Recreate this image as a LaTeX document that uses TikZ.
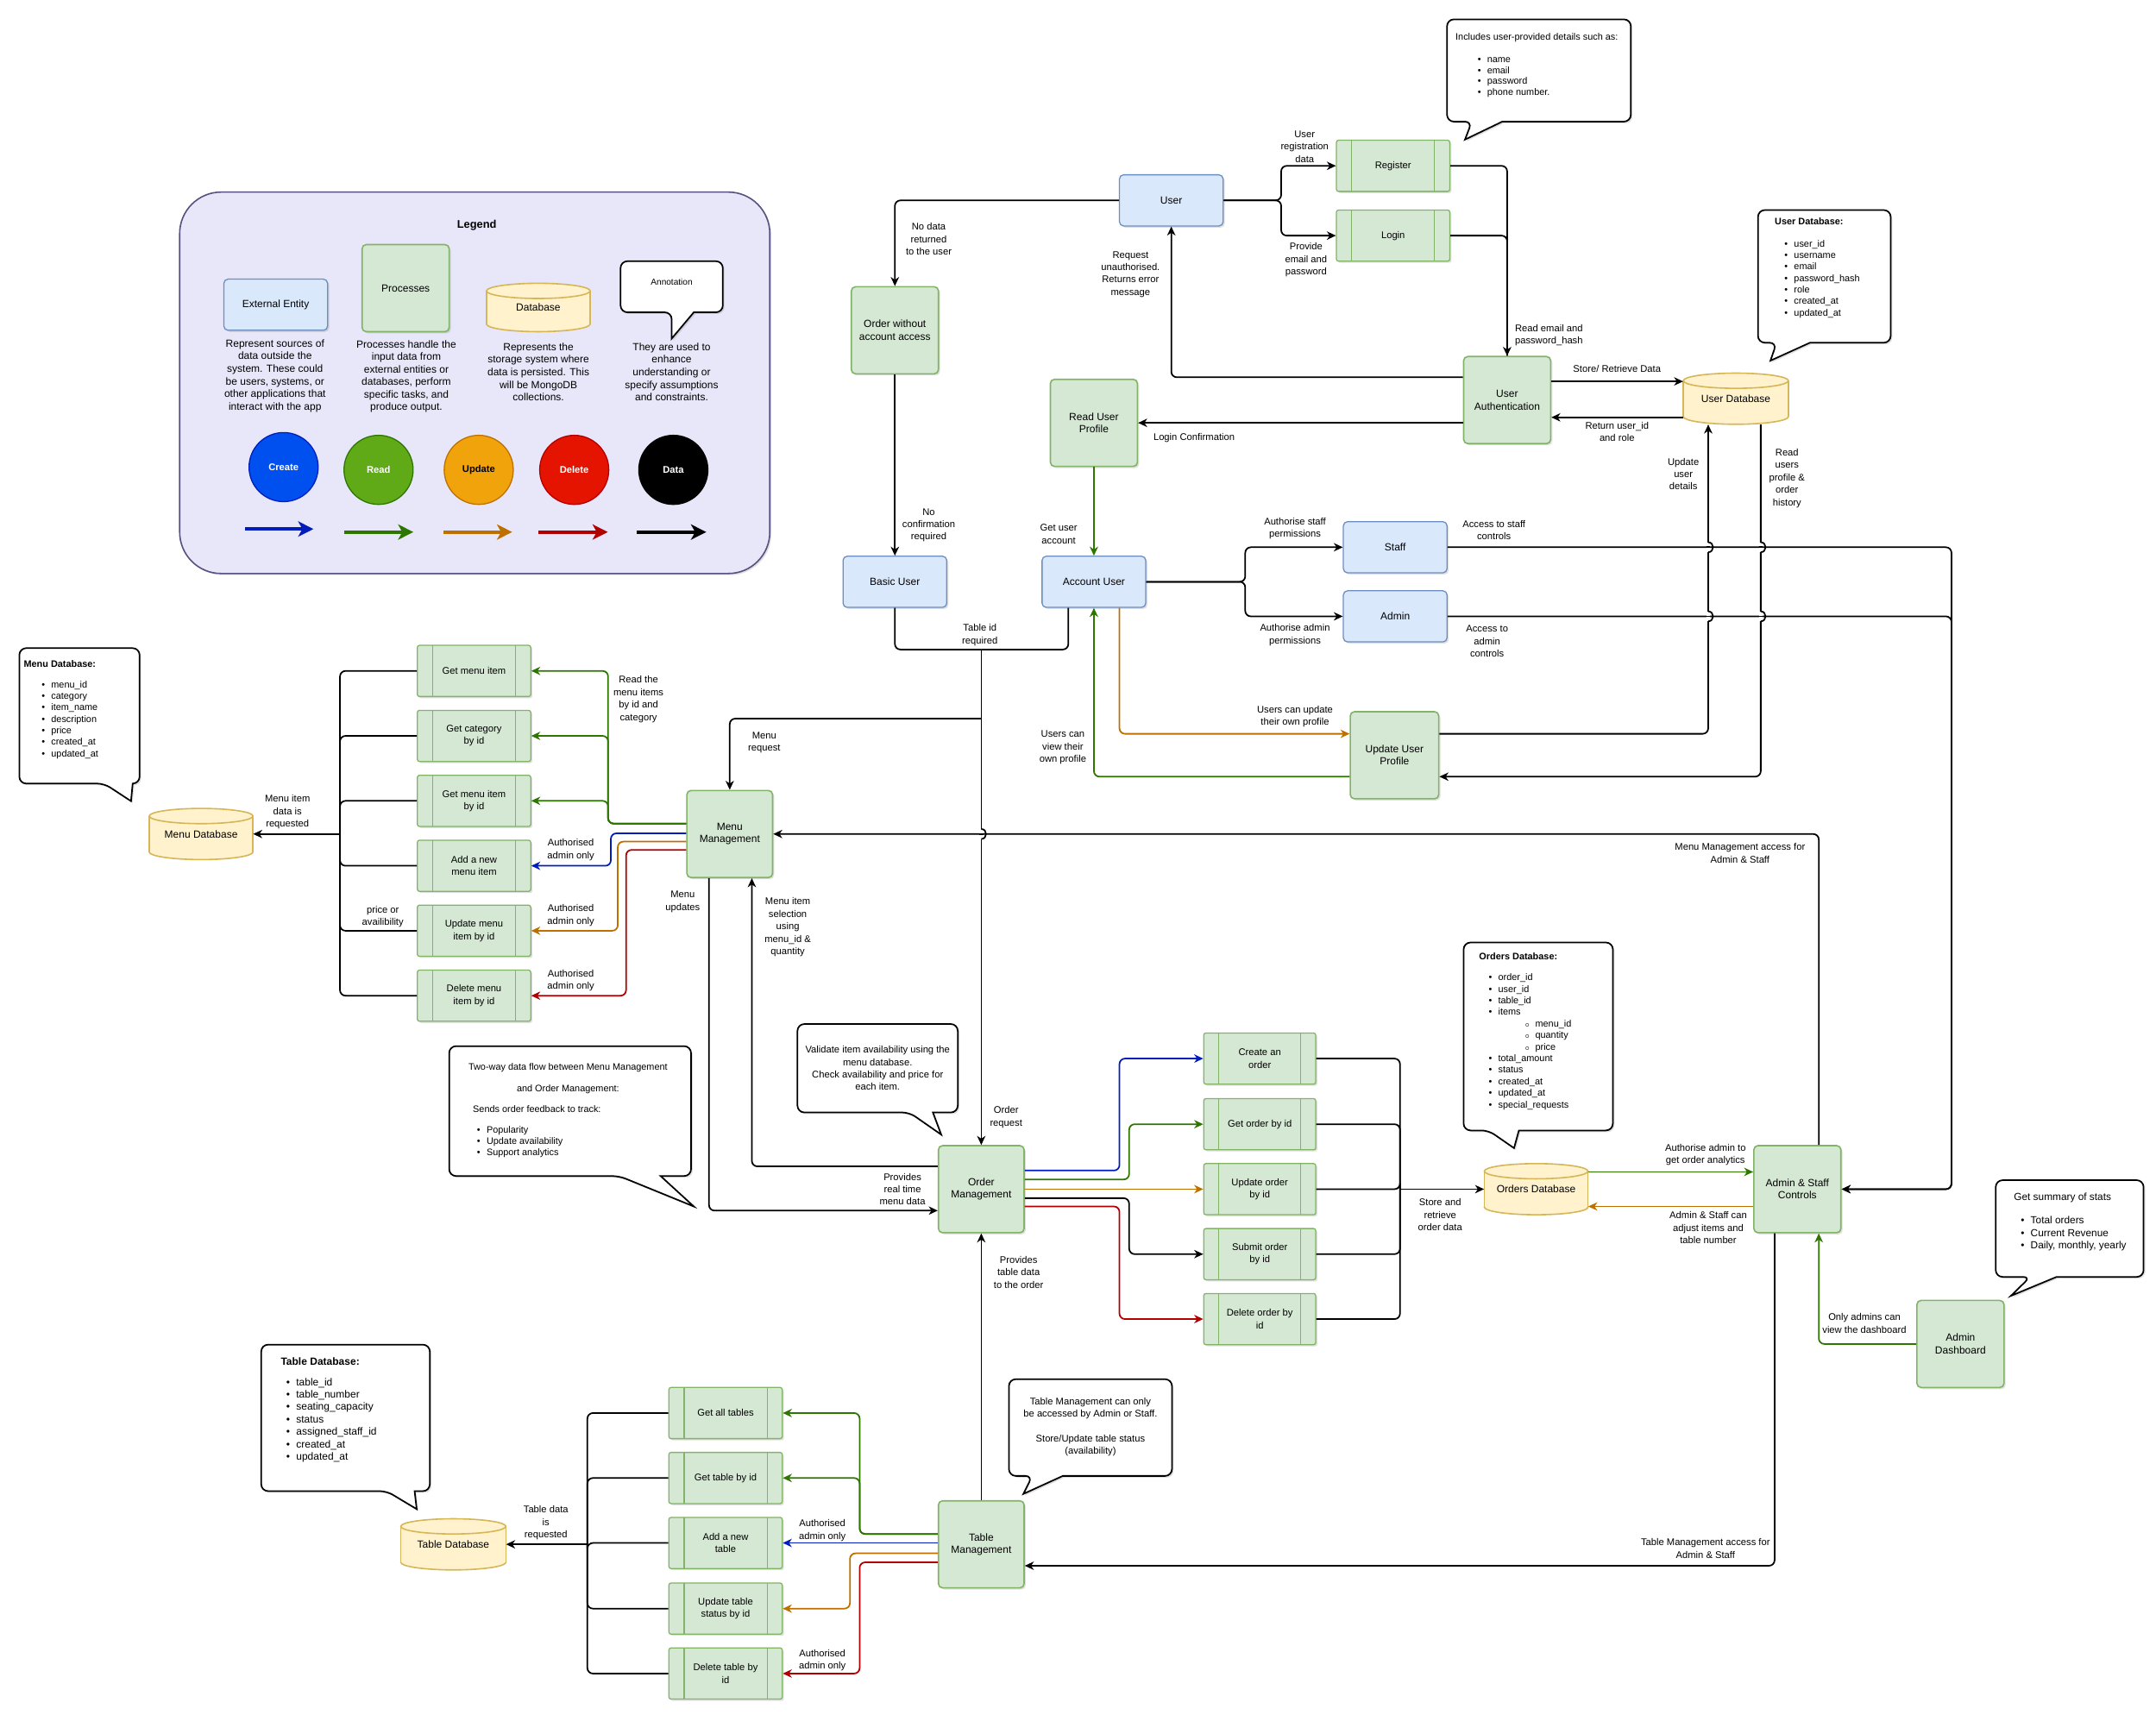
\documentclass[tikz,border=0pt]{standalone}
\usepackage{fontspec}
\setmainfont{Liberation Sans}
\usetikzlibrary{arrows.meta,shadows}
\definecolor{entfill}{HTML}{DAE8FC}
\definecolor{entline}{HTML}{6C8EBF}
\definecolor{procfill}{HTML}{D5E8D4}
\definecolor{procline}{HTML}{82B366}
\definecolor{dbfill}{HTML}{FFF2CC}
\definecolor{dbline}{HTML}{D6B656}
\definecolor{cBlue}{HTML}{001DBC}
\definecolor{cGreen}{HTML}{2D7600}
\definecolor{cOrange}{HTML}{BD7000}
\definecolor{cRed}{HTML}{B20000}
\definecolor{fBlue}{HTML}{0050EF}
\definecolor{fGreen}{HTML}{60A917}
\definecolor{fOrange}{HTML}{F0A30A}
\definecolor{fRed}{HTML}{E51400}
\definecolor{legfill}{HTML}{E8E6F9}
\definecolor{legline}{HTML}{56517E}
\newcommand\myfs[2]{\fontsize{#1}{#2}\selectfont}
\newcommand\blt[1]{\hspace*{#1}\textbullet\hspace{4.5pt}}
\newcommand\sblt[1]{\hspace*{#1}$\scriptscriptstyle\circ$\hspace{4pt}}
\tikzset{
  shd/.style={drop shadow={shadow xshift=1.2pt,shadow yshift=-1.2pt,opacity=0.25}},
  ent/.style={shd,rounded corners=3pt,fill=entfill,draw=entline,line width=0.8pt,minimum width=75pt,minimum height=37pt,align=center,font=\myfs{7.5}{9}},
  proc/.style={shd,rounded corners=3pt,fill=procfill,draw=procline,line width=1pt,minimum width=63pt,minimum height=63pt,align=center,font=\myfs{7.5}{9}},
  subp/.style={shd,rounded corners=1.5pt,fill=procfill,draw=procline,line width=0.8pt,minimum width=82pt,minimum height=37pt,align=center,font=\myfs{7}{9},
    path picture={\draw[procline,line width=0.7pt]
      ([xshift=11pt]path picture bounding box.north west) -- ([xshift=11pt]path picture bounding box.south west)
      ([xshift=-11pt]path picture bounding box.north east) -- ([xshift=-11pt]path picture bounding box.south east);}},
  lbl/.style={font=\myfs{7}{9},align=center,inner sep=0pt},
  ann/.style={font=\myfs{6.8}{8.33},align=left,inner sep=0pt,anchor=north west},
  arr/.style={line width=1.1pt,rounded corners=4pt,-{Stealth[length=6.5pt,width=6pt,inset=2pt]}},
  ln/.style={line width=1.1pt,rounded corners=4pt},
  legarr/.style={line width=2.3pt,-{Stealth[length=11pt,width=11pt,inset=3pt]}},
  circ/.style={circle,minimum size=50pt,line width=0.8pt,font=\bfseries\myfs{7}{9},text=white},
}
\newcommand\callout[8]{%
  \draw[shd,line width=1.1pt,fill=white] (#6,#4) [rounded corners=5pt] -- (#3,#4) -- (#3,#2) -- (#1,#2) -- (#1,#4) -- (#5,#4) [sharp corners] -- (#7,#8) -- cycle;}
\newcommand\dbcyl[6]{%
  \pgfmathsetmacro\cxa{#2-#4/2}\pgfmathsetmacro\cxb{#2+#4/2}%
  \pgfmathsetmacro\cya{#3-#5/2+5.5}\pgfmathsetmacro\cyb{#3+#5/2-5.5}%
  \pgfmathsetmacro\crx{#4/2}%
  \filldraw[fill=dbfill,draw=dbline,line width=1pt] (#2,\cyb) ellipse [x radius=\crx pt,y radius=5.5pt];
  \fill[dbfill] (\cxa,\cya) rectangle (\cxb,\cyb);
  \draw[dbline,line width=1pt] (\cxa,\cya) -- (\cxa,\cyb) (\cxb,\cya) -- (\cxb,\cyb);
  \filldraw[fill=dbfill,draw=dbline,line width=1pt] (#2,\cya) ellipse [x radius=\crx pt,y radius=5.5pt];
  \node[font=\myfs{7.5}{9},minimum width=#4pt,minimum height=#5pt,inner sep=0pt] (#1) at (#2,#3) {#6};}
% jump of a vertical line over a horizontal one at (#1,#2)
\newcommand\vjump[2]{%
  \fill[white] (#1-1.2,#2-3.6) rectangle (#1+1.2,#2+3.6);
  \draw[line width=1.1pt] (#1-1.4,#2) -- (#1+1.4,#2);
  \draw[line width=1.1pt] (#1,#2-3.6) .. controls (#1+4.6,#2-3.6) and (#1+4.6,#2+3.6) .. (#1,#2+3.6);}
\begin{document}
\begin{tikzpicture}[x=1pt,y=-1pt]
\useasboundingbox (0,0) rectangle (1560,1241);
\fill[white] (0,0) rectangle (1560,1241);

% ================= LEGEND =================
\node[shd,draw=legline,fill=legfill,line width=1pt,rounded corners=30pt,minimum width=427pt,minimum height=276pt] (legend) at (343.5,277) {};
\node[font=\bfseries\myfs{8}{10}] (legT) at (345,163) {Legend};
\node[ent] (lgEnt) at (199.5,220.5) {External Entity};
\node[proc] (lgProc) at (293.5,208.5) {Processes};
\dbcyl{lgDb}{389.5}{222.5}{75}{35}{Database}
\callout{449}{189}{523}{226}{486}{502}{486}{245}
\node[font=\myfs{6.3}{8}] (lgAnn) at (486,204) {Annotation};
\node[lbl,font=\myfs{7.5}{9.1},anchor=north] (lgD1) at (199,245.5) {Represent sources of\\data outside the\\system. These could\\be users, systems, or\\other applications that\\interact with the app};
\node[lbl,font=\myfs{7.5}{9.1},anchor=north] (lgD2) at (294,246) {Processes handle the\\input data from\\external entities or\\databases, perform\\specific tasks, and\\produce output.};
\node[lbl,font=\myfs{7.5}{9.1},anchor=north] (lgD3) at (389.6,248) {Represents the\\storage system where\\data is persisted. This\\will be MongoDB\\collections.};
\node[lbl,font=\myfs{7.5}{9.1},anchor=north] (lgD4) at (486,248) {They are used to\\enhance\\understanding or\\specify assumptions\\and constraints.};
\node[circ,fill=fBlue,draw=cBlue] (cCreate) at (205.2,338) {Create};
\node[circ,fill=fGreen,draw=cGreen] (cRead) at (273.9,340) {Read};
\node[circ,fill=fOrange,draw=cOrange,text=black] (cUpdate) at (346.4,340) {Update};
\node[circ,fill=fRed,draw=cRed] (cDelete) at (415.5,340) {Delete};
\node[circ,fill=black,draw=black] (cData) at (487.2,340) {Data};
\draw[legarr,cBlue] (177.5,382.8) -- (226.8,382.8);
\draw[legarr,cGreen] (249.3,385) -- (299.1,385);
\draw[legarr,cOrange] (321,385) -- (370.6,385);
\draw[legarr,cRed] (389.7,385) -- (439.8,385);
\draw[legarr,black] (461,385) -- (511,385);

% ================= CALLOUTS =================
\callout{1047}{14}{1180}{88}{1065}{1087}{1060}{101}
\node[ann,font=\myfs{6.8}{8}] (aTop) at (1053,24) {Includes user-provided details such as:\\[8pt]\blt{16pt}name\\\blt{16pt}email\\\blt{16pt}password\\\blt{16pt}phone number.};
\callout{1272}{152}{1368}{248}{1285.5}{1309.6}{1281}{261}
\node[ann] (aUdb) at (1284,157.5) {\textbf{User Database:}\\[7.7pt]\blt{7pt}user\_id\\\blt{7pt}username\\\blt{7pt}email\\\blt{7pt}password\_hash\\\blt{7pt}role\\\blt{7pt}created\_at\\\blt{7pt}updated\_at};
\callout{14}{469}{101}{567}{75.4}{96}{94.8}{579.7}
\node[ann] (aMdb) at (17,477.5) {\textbf{Menu Database:}\\[6.7pt]\blt{13pt}menu\_id\\\blt{13pt}category\\\blt{13pt}item\_name\\\blt{13pt}description\\\blt{13pt}price\\\blt{13pt}created\_at\\\blt{13pt}updated\_at};
\callout{1059}{682}{1167}{818}{1077}{1099}{1095.5}{830.8}
\node[ann,font=\myfs{6.8}{8.36}] (aOdb) at (1070,689.5) {\textbf{Orders Database:}\\[6.6pt]\blt{7pt}order\_id\\\blt{7pt}user\_id\\\blt{7pt}table\_id\\\blt{7pt}items\\\sblt{33pt}menu\_id\\\sblt{33pt}quantity\\\sblt{33pt}price\\\blt{7pt}total\_amount\\\blt{7pt}status\\\blt{7pt}created\_at\\\blt{7pt}updated\_at\\\blt{7pt}special\_requests};
\callout{189}{973}{311}{1079}{279.8}{300}{301.5}{1092}
\node[ann,font=\myfs{7.5}{9}] (aTdb) at (203,982) {\textbf{Table Database:}\\[6pt]\blt{4pt}table\_id\\\blt{4pt}table\_number\\\blt{4pt}seating\_capacity\\\blt{4pt}status\\\blt{4pt}assigned\_staff\_id\\\blt{4pt}created\_at\\\blt{4pt}updated\_at};
\callout{1444}{854}{1551}{924}{1469}{1488}{1455}{937.7}
\node[ann,font=\myfs{7.4}{9}] (aSt) at (1457,863) {Get summary of stats\\[8pt]\blt{5pt}Total orders\\\blt{5pt}Current Revenue\\\blt{5pt}Daily, monthly, yearly};
\callout{577}{741}{693}{805}{658}{675}{681}{821}
\node[lbl] (aVal) at (635,773) {Validate item availability using the\\menu database.\\Check availability and price for\\each item.};
\callout{325}{757}{500}{851}{448}{478}{502}{873}
\node[lbl,font=\myfs{6.8}{16}] (aTw1) at (411,780.5) {Two-way data flow between Menu Management\\and Order Management:};
\node[ann,font=\myfs{6.8}{8}] (aTw2) at (342,800) {Sends order feedback to track:\\[7pt]\blt{3pt}Popularity\\\blt{3pt}Update availability\\\blt{3pt}Support analytics};
\callout{730}{998}{848}{1068}{747}{769}{740.5}{1081}
\node[lbl] (aTm) at (789,1032.5) {Table Management can only\\be accessed by Admin or Staff.\\[9pt]Store/Update table status\\(availability)};

% ================= NODES =================
\node[ent] (user) at (847.5,145) {User};
\node[subp] (reg) at (1008,120) {Register};
\node[subp] (login) at (1008,170.5) {Login};
\node[proc] (owa) at (647.5,239) {Order without\\account access};
\node[proc] (ua) at (1090.5,289.5) {User\\Authentication};
\node[proc] (rup) at (791.5,306) {Read User\\Profile};
\dbcyl{udb}{1256}{288.5}{76}{37}{User Database}
\node[ent] (basic) at (647.5,421) {Basic User};
\node[ent] (acc) at (791.5,421) {Account User};
\node[ent] (staff) at (1009.5,396) {Staff};
\node[ent] (admin) at (1009.5,446) {Admin};
\node[proc,minimum width=64pt] (uup) at (1009,546.5) {Update User\\Profile};
\node[proc,minimum width=62pt] (mm) at (528,603.5) {Menu\\Management};
\dbcyl{mdb}{145.5}{603.5}{75}{37}{Menu Database}
\node[subp] (mp1) at (343,485.5) {Get menu item};
\node[subp] (mp2) at (343,532.5) {Get category\\by id};
\node[subp] (mp3) at (343,579.5) {Get menu item\\by id};
\node[subp] (mp4) at (343,626.5) {Add a new\\menu item};
\node[subp] (mp5) at (343,673.5) {Update menu\\item by id};
\node[subp] (mp6) at (343,720.5) {Delete menu\\item by id};
\node[proc,minimum width=62pt] (om) at (710,860.5) {Order\\Management};
\node[subp,minimum width=81pt] (op1) at (911.5,766) {Create an\\order};
\node[subp,minimum width=81pt] (op2) at (911.5,813.5) {Get order by id};
\node[subp,minimum width=81pt] (op3) at (911.5,860.5) {Update order\\by id};
\node[subp,minimum width=81pt] (op4) at (911.5,907.5) {Submit order\\by id};
\node[subp,minimum width=81pt] (op5) at (911.5,954.5) {Delete order by\\id};
\dbcyl{odb}{1111.5}{860.5}{75}{37}{Orders Database}
\node[proc] (asc) at (1300.5,860.5) {Admin \& Staff\\Controls};
\node[proc] (ad) at (1418.5,972.5) {Admin\\Dashboard};
\node[proc,minimum width=62pt] (tm) at (710,1117.5) {Table\\Management};
\node[subp] (tp1) at (525,1022.5) {Get all tables};
\node[subp] (tp2) at (525,1069.5) {Get table by id};
\node[subp] (tp3) at (525,1116.5) {Add a new\\table};
\node[subp] (tp4) at (525,1164) {Update table\\status by id};
\node[subp] (tp5) at (525,1211) {Delete table by\\id};
\dbcyl{tdb}{328}{1117.5}{76}{37}{Table Database}

\coordinate (jUser) at (927,145);
\coordinate (jAcc) at (901,421);
\coordinate (j1) at (710,470);
\coordinate (j2) at (710,520);

% ================= CONNECTORS =================
\draw[arr] (user.east) -- (jUser) |- (reg.west);
\draw[arr] (user.east) -- (jUser) |- (login.west);
\draw[ln] (login.east) -| (ua.north);
\draw[arr] (reg.east) -| (ua.north);
\draw[arr] (user.west) -| (owa.north);
\draw[arr] (ua.west |- 0,273) -| (user.south);
\draw[arr] (ua.west |- rup.east) -- (rup.east);
\draw[arr] (ua.east |- 0,276) -- (udb.west |- 0,276);
\draw[arr] (udb.west |- 0,302) -- (ua.east |- 0,302);
\draw[arr,cGreen] (rup.south) -- (acc.north);
\draw[arr] (owa.south) -- (basic.north);
\draw[arr] (acc.east) -- (jAcc) |- (staff.west);
\draw[arr] (acc.east) -- (jAcc) |- (admin.west);
\draw[arr] (staff.east) -| (1412,860.5) -- (asc.east);
\draw[arr] (admin.east) -| (1412,860.5) -- (asc.east);
\draw[arr] (uup.east |- 0,531) -| ([xshift=-20pt]udb.south);
\draw[arr] ([xshift=18pt]udb.south) |- (uup.east |- 0,562);
\draw[arr,cOrange] ([xshift=18.5pt]acc.south) |- (uup.west |- 0,531);
\draw[arr,cGreen] (uup.west |- 0,562) -| (acc.south);
\draw[ln] (basic.south) |- (j1);
\draw[ln] ([xshift=-18.5pt]acc.south) |- (j1);
\draw[arr] (j1) -- (om.north);
\draw[arr] (j2) -| (mm.north);
\draw[arr] ([xshift=-15pt]mm.south) |- (om.west |- 0,876);
\draw[arr] (om.west |- 0,844) -| ([xshift=16pt]mm.south);
\draw[arr] ([xshift=15.5pt]asc.north) |- (mm.east);
\draw[arr] ([xshift=-16.5pt]asc.south) |- (tm.east |- 0,1133);
\draw[arr,cGreen] (ad.west) -| ([xshift=15.5pt]asc.south);
\draw[arr,cGreen] (odb.east |- 0,848) -- (asc.west |- 0,848);
\draw[arr,cOrange] (asc.west |- 0,873) -- (odb.east |- 0,873);
\draw[arr] (tm.north) -- (om.south);

% line jumps
\vjump{1236}{396}
\vjump{1274}{396}
\vjump{1236}{446}
\vjump{1274}{446}
\vjump{710}{603.5}

% menu
\draw[arr,cGreen] (mm.west |- 0,596) -| (440,485.5) -- (mp1.east);
\draw[arr,cGreen] (mm.west |- 0,596) -| (440,532.5) -- (mp2.east);
\draw[arr,cGreen] (mm.west |- 0,596) -| (440,579.5) -- (mp3.east);
\draw[arr,cBlue] (mm.west |- 0,603) -| (442,626.5) -- (mp4.east);
\draw[arr,cOrange] (mm.west |- 0,609) -| (447,673.5) -- (mp5.east);
\draw[arr,cRed] (mm.west |- 0,615) -| (453,720.5) -- (mp6.east);
\foreach \i in {1,...,6} \draw[ln] (mp\i.west) -| (246,603.5);
\draw[arr] (246,603.5) -- (mdb.east);

% orders
\draw[arr,cBlue] (om.east |- 0,847) -| (810,766) -- (op1.west);
\draw[arr,cGreen] (om.east |- 0,853.5) -| (817,813.5) -- (op2.west);
\draw[arr,cOrange] (om.east |- 0,860.5) -- (op3.west);
\draw[arr] (om.east |- 0,867) -| (817,907.5) -- (op4.west);
\draw[arr,cRed] (om.east |- 0,873) -| (810,954.5) -- (op5.west);
\foreach \i in {1,...,5} \draw[ln] (op\i.east) -| (1013,860.5);
\draw[arr] (1013,860.5) -- (odb.west);

% tables
\draw[arr,cGreen] (tm.west |- 0,1110) -| (622,1022.5) -- (tp1.east);
\draw[arr,cGreen] (tm.west |- 0,1110) -| (622,1069.5) -- (tp2.east);
\draw[arr,cBlue] (tm.west |- tp3.east) -- (tp3.east);
\draw[arr,cOrange] (tm.west |- 0,1124) -| (615,1164) -- (tp4.east);
\draw[arr,cRed] (tm.west |- 0,1130.5) -| (622,1211) -- (tp5.east);
\foreach \i in {1,...,5} \draw[ln] (tp\i.west) -| (425,1117.5);
\draw[arr] (425,1117.5) -- (tdb.east);

% ================= LABELS =================
\node[lbl] (tUreg) at (944,106) {User\\registration\\data};
\node[lbl] (tProv) at (945,188) {Provide\\email and\\password};
\node[lbl,align=left,anchor=west] (tRead) at (1096,242.5) {Read email and\\password\_hash};
\node[lbl] (tNoData) at (672,173) {No data\\returned\\to the user};
\node[lbl] (tReq) at (818,198.5) {Request\\unauthorised.\\Returns error\\message};
\node[lbl] (tLogin) at (864,317) {Login Confirmation};
\node[lbl] (tStore) at (1170,267) {Store/ Retrieve Data};
\node[lbl] (tRet) at (1170,312.5) {Return user\_id\\and role};
\node[lbl] (tUpd) at (1218,343) {Update\\user\\details};
\node[lbl] (tRU) at (1293,346) {Read\\users\\profile \&\\order\\history};
\node[lbl] (tGet) at (766,386.5) {Get user\\account};
\node[lbl] (tNoConf) at (672,380) {No\\confirmation\\required};
\node[lbl] (tAS) at (937,382.5) {Authorise staff\\permissions};
\node[lbl] (tAA) at (937,459.5) {Authorise admin\\permissions};
\node[lbl] (tAcS) at (1081,383.5) {Access to staff\\controls};
\node[lbl] (tAcA) at (1076,464) {Access to\\admin\\controls};
\node[lbl] (tTid) at (709,459.5) {Table id\\required};
\node[lbl] (tUcu) at (937,518.5) {Users can update\\their own profile};
\node[lbl] (tUcv) at (769,541) {Users can\\view their\\own profile};
\node[lbl] (tMreq) at (553,537.5) {Menu\\request};
\node[lbl] (tRmi) at (462,506) {Read the\\menu items\\by id and\\category};
\node[lbl] (tMid) at (208,587.5) {Menu item\\data is\\requested};
\node[lbl] (tAu1) at (413,615) {Authorised\\admin only};
\node[lbl] (tAu2) at (413,662.5) {Authorised\\admin only};
\node[lbl] (tAu3) at (413,709.5) {Authorised\\admin only};
\node[lbl] (tPrice) at (277,663.5) {price or\\availibility};
\node[lbl] (tMupd) at (494,652.5) {Menu\\updates};
\node[lbl] (tMsel) at (570,671) {Menu item\\selection\\using\\menu\_id \&\\quantity};
\node[lbl] (tOreq) at (728,808.5) {Order\\request};
\node[lbl] (tPrm) at (653,860.5) {Provides\\real time\\menu data};
\node[lbl] (tSro) at (1042,879) {Store and\\retrieve\\order data};
\node[lbl] (tAag) at (1234,835.5) {Authorise admin to\\get order analytics};
\node[lbl] (tAsc) at (1236,888.5) {Admin \& Staff can\\adjust items and\\table number};
\node[lbl] (tOnly) at (1349,957.5) {Only admins can\\view the dashboard};
\node[lbl] (tMma) at (1259,617.5) {Menu Management access for\\Admin \& Staff};
\node[lbl] (tTma) at (1234,1120.5) {Table Management access for\\Admin \& Staff};
\node[lbl] (tPtd) at (737,920.5) {Provides\\table data\\to the order};
\node[lbl] (tTdr) at (395,1102) {Table data\\is\\requested};
\node[lbl] (tAu4) at (595,1107.5) {Authorised\\admin only};
\node[lbl] (tAu5) at (595,1201.5) {Authorised\\admin only};
\end{tikzpicture}
\end{document}
